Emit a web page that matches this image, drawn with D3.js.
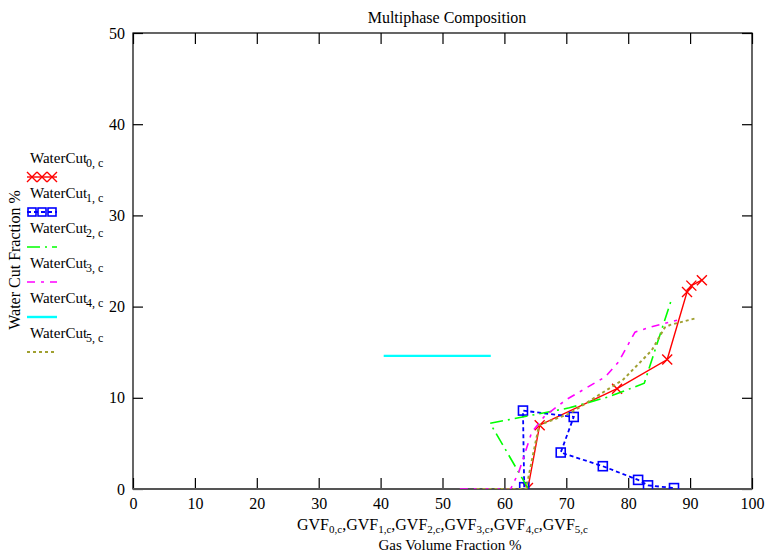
<!DOCTYPE html>
<html>
<head>
<meta charset="utf-8">
<script src="https://cdn.jsdelivr.net/npm/d3@7"></script>
<style>
  body { margin: 0; background: #fff; }
</style>
</head>
<body>
<svg id="chart" width="766" height="553"></svg>
<script>
// ---- data ----
const gvf0 = [63.8, 65.7, 78.2, 86.3, 89.5, 90.2, 91.9];
const wc0  = [0.1, 7.0, 11.0, 14.2, 21.6, 22.3, 22.9];

const gvf1 = [63.2, 63.0, 71.2, 69.1, 75.9, 81.6, 83.2, 87.4];
const wc1  = [0.2, 8.6, 7.9, 4.0, 2.5, 1.0, 0.4, 0.1];

const gvf2 = [63.8, 57.7, 70.5, 76.8, 82.6, 86.9];
const wc2  = [0.1, 7.2, 8.9, 10.1, 11.6, 20.6];

const gvf3 = [52.8, 61.0, 62.3, 64.4, 66.5, 70.0, 76.3, 78.4, 81.1, 83.8, 87.9];
const wc3  = [0.0, 0.0, 1.8, 6.2, 8.0, 9.8, 12.3, 13.9, 17.2, 17.8, 18.5];

const gvf4 = [40.5, 57.8];
const wc4  = [14.6, 14.6];

const gvf5 = [55.5, 63.5, 65.6, 70.6, 79.2, 83.8, 85.9, 86.8, 91.1];
const wc5  = [0.0, 0.0, 7.0, 8.3, 12.0, 15.2, 17.7, 18.0, 18.75];

const xTicks = [0, 10, 20, 30, 40, 50, 60, 70, 80, 90, 100];
const yTicks = [0, 10, 20, 30, 40, 50];

const series = [
  { gvf: gvf0, wc: wc0, color: '#ff0000', dash: null, width: 1.4, marker: 'x' },
  { gvf: gvf1, wc: wc1, color: '#0000ff', dash: '4,3', width: 1.8, marker: 'sq' },
  { gvf: gvf2, wc: wc2, color: '#00ff00', dash: '13,5,2,5', width: 1.6, marker: null },
  { gvf: gvf3, wc: wc3, color: '#ff00ff', dash: '8,6,3,6', width: 1.6, marker: null },
  { gvf: gvf4, wc: wc4, color: '#00ffff', dash: null, width: 2.4, marker: null },
  { gvf: gvf5, wc: wc5, color: '#a0a030', dash: '3,3', width: 2, marker: null },
];

const FONT = '"Liberation Serif", "Times New Roman", "DejaVu Serif", serif';

// ---- layout ----
const svg = d3.select('#chart');
const L = 133, R = 752, T = 33, B = 489;
const x = d3.scaleLinear().domain([0, 100]).range([L, R]);
const y = d3.scaleLinear().domain([0, 50]).range([B, T]);

svg.append('defs').append('clipPath').attr('id', 'plot-clip')
  .append('rect').attr('x', L).attr('y', T - 2).attr('width', R - L).attr('height', B - T + 2);

// axes (ticks point inward)
svg.append('g').attr('transform', `translate(0,${B})`)
  .call(d3.axisBottom(x).tickValues(xTicks).tickSizeInner(-11).tickSizeOuter(0).tickPadding(9));
svg.append('g').attr('transform', `translate(${L},0)`)
  .call(d3.axisLeft(y).tickValues(yTicks).tickSizeInner(-10).tickSizeOuter(0).tickPadding(8));
svg.append('g').attr('transform', `translate(0,${T})`)
  .call(d3.axisTop(x).tickValues(xTicks).tickSizeInner(-11).tickSizeOuter(0).tickFormat(''));
svg.append('g').attr('transform', `translate(${R},0)`)
  .call(d3.axisRight(y).tickValues(yTicks).tickSizeInner(-10).tickSizeOuter(0).tickFormat(''));

svg.selectAll('.domain').remove();
svg.selectAll('.tick line').attr('stroke', '#000').attr('stroke-width', 1.2);
svg.selectAll('.tick text').style('font-size', '16px').style('font-family', FONT).attr('fill', '#000');

// frame
svg.append('rect').attr('x', L).attr('y', T).attr('width', R - L).attr('height', B - T)
  .attr('fill', 'none').attr('stroke', '#000').attr('stroke-width', 1.2);
svg.append('line').attr('x1', L).attr('x2', R).attr('y1', B).attr('y2', B)
  .attr('stroke', '#555').attr('stroke-width', 2.2);

// ---- series ----
const plot = svg.append('g').attr('clip-path', 'url(#plot-clip)');
const line = d3.line().x(d => x(d[0])).y(d => y(d[1]));

series.forEach(s => {
  const pts = s.gvf.map((g, i) => [g, s.wc[i]]);
  plot.append('path')
    .attr('d', line(pts))
    .attr('fill', 'none')
    .attr('stroke', s.color)
    .attr('stroke-width', s.width)
    .attr('stroke-dasharray', s.dash);
  if (s.marker === 'x') {
    plot.append('g').selectAll('path').data(pts).join('path')
      .attr('d', d => {
        const cx = x(d[0]), cy = y(d[1]), r = 5;
        return `M${cx - r},${cy - r}L${cx + r},${cy + r}M${cx - r},${cy + r}L${cx + r},${cy - r}`;
      })
      .attr('stroke', s.color).attr('stroke-width', 1.4);
  } else if (s.marker === 'sq') {
    plot.append('g').selectAll('rect').data(pts).join('rect')
      .attr('x', d => x(d[0]) - 4.5).attr('y', d => y(d[1]) - 4.5)
      .attr('width', 9).attr('height', 9)
      .attr('fill', 'none').attr('stroke', s.color).attr('stroke-width', 1.6);
  }
});

// ---- legend ----
const legend = svg.append('g');
series.forEach((s, i) => {
  const by = 163 + i * 35;
  const t = legend.append('text').attr('x', 30).attr('y', by)
    .style('font-family', FONT).style('font-size', '15px');
  t.append('tspan').text('WaterCut');
  t.append('tspan').attr('dx', -1).attr('dy', 4).style('font-size', '12px').text(`${i}, c`);
  const ly = by + 14;
  legend.append('line').attr('x1', 27).attr('x2', 57).attr('y1', ly).attr('y2', ly)
    .attr('stroke', s.color).attr('stroke-width', s.width).attr('stroke-dasharray', s.dash);
  const mx = [32, 42, 52];
  if (s.marker === 'x') {
    mx.forEach(cx => legend.append('path')
      .attr('d', `M${cx - 5},${ly - 5}L${cx + 5},${ly + 5}M${cx - 5},${ly + 5}L${cx + 5},${ly - 5}`)
      .attr('stroke', s.color).attr('stroke-width', 1.4));
  } else if (s.marker === 'sq') {
    mx.forEach(cx => legend.append('rect')
      .attr('x', cx - 4).attr('y', ly - 4).attr('width', 8).attr('height', 8)
      .attr('fill', 'none').attr('stroke', s.color).attr('stroke-width', 1.6));
  }
});

// ---- titles ----
svg.append('text').attr('x', 447).attr('y', 23).attr('text-anchor', 'middle')
  .style('font-family', FONT).style('font-size', '16px').text('Multiphase Composition');

svg.append('text').attr('transform', 'translate(20,260) rotate(-90)').attr('text-anchor', 'middle')
  .style('font-family', FONT).style('font-size', '16px').text('Water Cut Fraction %');

const xl = svg.append('text').attr('x', 297).attr('y', 530)
  .style('font-family', FONT).style('font-size', '16px');
series.forEach((s, i) => {
  xl.append('tspan').attr('dy', i === 0 ? 0 : -3).text((i === 0 ? '' : ',') + 'GVF');
  xl.append('tspan').attr('dx', 0).attr('dy', 3).style('font-size', '11px').text(`${i},c`);
});

svg.append('text').attr('x', 450).attr('y', 550).attr('text-anchor', 'middle')
  .style('font-family', FONT).style('font-size', '15px').text('Gas Volume Fraction %');
</script>
</body>
</html>
